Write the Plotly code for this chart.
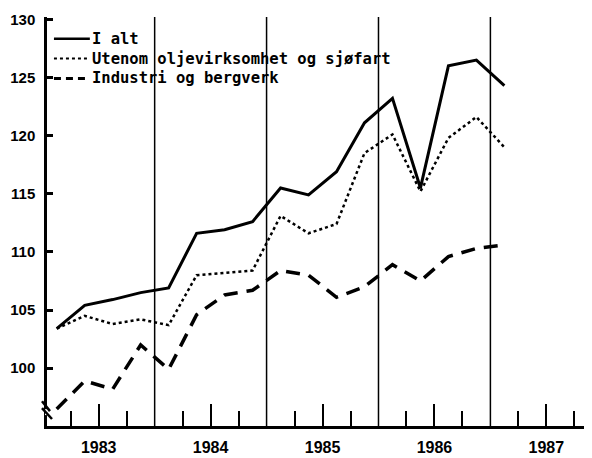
import plotly.graph_objects as go

# quarterly index, 1983 Q1 .. 1987 Q1
quarters = ["1983K1", "1983K2", "1983K3", "1983K4",
            "1984K1", "1984K2", "1984K3", "1984K4",
            "1985K1", "1985K2", "1985K3", "1985K4",
            "1986K1", "1986K2", "1986K3", "1986K4",
            "1987K1"]
i_alt = [103.4, 105.4, 105.9, 106.5, 106.9, 111.6, 111.9, 112.6, 115.5,
         114.9, 116.9, 121.1, 123.2, 115.5, 126.0, 126.5, 124.3]
utenom_olje = [103.4, 104.5, 103.8, 104.2, 103.7, 108.0, 108.2, 108.4, 113.1,
               111.6, 112.4, 118.5, 120.1, 115.2, 119.8, 121.6, 119.0]
industri = [96.5, 98.9, 98.2, 102.0, 99.9, 104.6, 106.3, 106.7, 108.4,
            108.0, 106.1, 107.0, 108.9, 107.5, 109.6, 110.3, 110.6]

years = [1983, 1984, 1985, 1986, 1987]
y_ticks = [100, 105, 110, 115, 120, 125, 130]

# place each quarter at the middle of its quarter on a numeric time axis
xq = [int(q[:4]) + (int(q[-1]) - 0.5) / 4 for q in quarters]

series = [
    ("I alt", i_alt, dict(color="black", width=3)),
    ("Utenom oljevirksomhet og sjøfart", utenom_olje,
     dict(color="black", width=2.5, dash="dot")),
    ("Industri og bergverk", industri, dict(color="black", width=3.5, dash="14px,9px")),
]

fig = go.Figure()
for name, vals, ln in series:
    fig.add_trace(go.Scatter(x=xq, y=vals, mode="lines", name=name, line=ln,
                             showlegend=False))

# hand-made legend in the top left corner
leg_font = dict(family="DejaVu Sans Mono", size=15.5, color="black", weight="bold")
leg_dash = [None, "dot", "7px,5px"]
for k, (name, vals, ln) in enumerate(series):
    yp = 0.9467 - k * 0.0484
    fig.add_shape(type="line", xref="paper", yref="paper", x0=0.0128, x1=0.0789,
                  y0=yp, y1=yp, line=dict(color="black", width=ln["width"] - 0.5,
                                          dash=leg_dash[k]))
    fig.add_annotation(xref="paper", yref="paper", x=0.0789, y=yp, text=name,
                       showarrow=False, xanchor="left", yanchor="middle",
                       font=leg_font)

# year boundaries
for yr in years[1:]:
    fig.add_shape(type="line", xref="x", yref="paper", x0=yr, x1=yr, y0=0, y1=1,
                  line=dict(color="black", width=1.5))

# axis break on the value axis
fig.add_shape(type="line", xref="paper", yref="y", x0=0, x1=0, y0=96.48, y1=95.97,
              line=dict(color="white", width=4))
fig.add_shape(type="line", xref="paper", yref="y", x0=-0.0092, x1=0.0055,
              y0=97.16, y1=96.31, line=dict(color="black", width=2.5))
fig.add_shape(type="line", xref="paper", yref="y", x0=-0.0092, x1=0.0092,
              y0=96.56, y1=95.63, line=dict(color="black", width=2.5))

fig.update_layout(
    width=584, height=450,
    margin=dict(l=37, r=2, t=9, b=28),
    paper_bgcolor="white", plot_bgcolor="white",
    xaxis=dict(range=[1983.038, 1987.89], showgrid=False, zeroline=False,
               showline=True, linecolor="black", linewidth=2.5,
               tickvals=[y + 0.5 for y in years], ticktext=[str(y) for y in years],
               ticks="inside", ticklen=22, tickwidth=2, tickcolor="black",
               ticklabelstandoff=5,
               minor=dict(ticks="inside", ticklen=15, tickwidth=2, tickcolor="black",
                          tick0=1983.25, dtick=0.5, showgrid=False),
               tickfont=dict(family="Liberation Sans Narrow, Liberation Sans", size=16,
                             color="black", weight="bold")),
    yaxis=dict(range=[95.03, 130.2], showgrid=False, zeroline=False,
               showline=True, linecolor="black", linewidth=2.5,
               tickvals=y_ticks, ticks="inside", ticklen=6, tickwidth=2.5,
               tickcolor="black", ticklabelstandoff=6,
               tickfont=dict(family="Liberation Sans Narrow, Liberation Sans", size=15,
                             color="black", weight="bold")),
)

fig.write_html("out.html")
